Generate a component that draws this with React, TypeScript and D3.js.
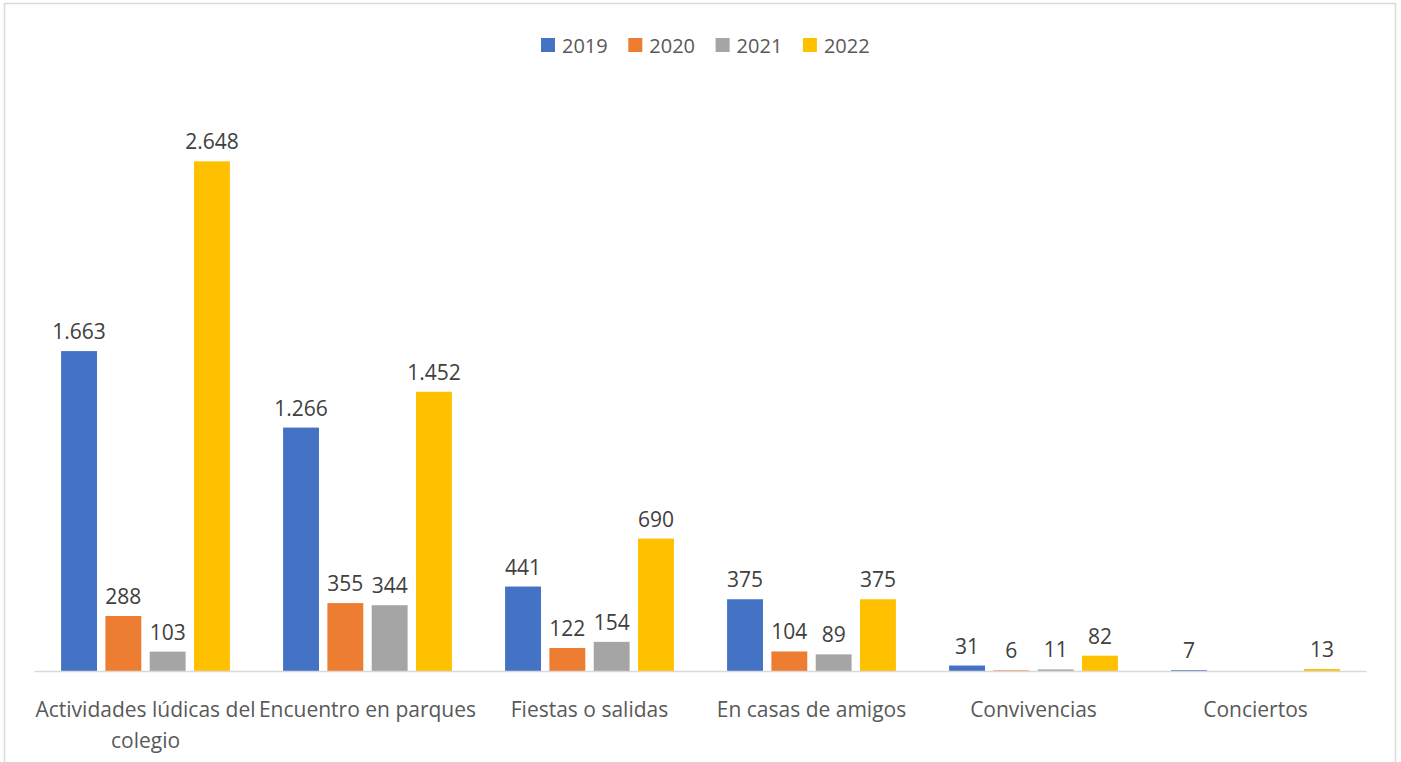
import React, { useEffect, useRef } from 'react';
import * as d3 from 'd3';

const categories = [
  'Actividades lúdicas del colegio',
  'Encuentro en parques',
  'Fiestas o salidas',
  'En casas de amigos',
  'Convivencias',
  'Conciertos',
];
const years = ['2019', '2020', '2021', '2022'];
const values2019 = [1663, 1266, 441, 375, 31, 7];
const values2020 = [288, 355, 122, 104, 6, null];
const values2021 = [103, 344, 154, 89, 11, null];
const values2022 = [2648, 1452, 690, 375, 82, 13];
const colors = ['#4472C4', '#ED7D31', '#A5A5A5', '#FFC000'];

const W = 1401;
const H = 762;

const Chart: React.FC = () => {
  const svgRef = useRef<SVGSVGElement | null>(null);

  useEffect(() => {
    if (!svgRef.current) return;
    const svg = d3.select(svgRef.current);
    svg.selectAll('*').remove();

    const font = '"Open Sans", sans-serif';
    const series = [values2019, values2020, values2021, values2022];
    const locale = d3.formatLocale({ decimal: ',', thousands: '.', grouping: [3], currency: ['', '€'] });
    const fmt = locale.format(',d');

    // outer chart border (bottom edge runs off the page)
    svg.append('rect')
      .attr('x', 4.5).attr('y', 3.5)
      .attr('width', 1391).attr('height', 820)
      .attr('fill', '#fff')
      .attr('stroke', '#d9d9d9')
      .attr('stroke-width', 1.5);

    const x0 = d3.scaleBand<string>().domain(categories).range([34.5, 1366.5]);
    const x1 = d3.scaleBand<string>().domain(years).range([0, x0.bandwidth()])
      .paddingInner(0.19).paddingOuter(0.6);
    const y = d3.scaleLinear().domain([0, 3000]).range([671.5, 93.5]);

    const groups = svg.append('g').selectAll('g')
      .data(categories)
      .enter().append('g')
      .attr('transform', d => `translate(${x0(d)},0)`);

    years.forEach((yr, si) => {
      groups.each(function (_c, ci) {
        const v = series[si][ci];
        if (v == null) return; // no bar for this year
        const g = d3.select(this);
        g.append('rect')
          .attr('x', x1(yr)!)
          .attr('y', y(v))
          .attr('width', x1.bandwidth())
          .attr('height', y(0) - y(v))
          .attr('fill', colors[si]);
        g.append('text')
          .attr('x', x1(yr)! + x1.bandwidth() / 2)
          .attr('y', y(v) - 12)
          .attr('text-anchor', 'middle')
          .style('font-family', font)
          .style('font-size', '21px')
          .style('fill', '#404040')
          .text(fmt(v));
      });
    });

    // baseline
    svg.append('line')
      .attr('x1', 34.5).attr('x2', 1366.5)
      .attr('y1', 671.5).attr('y2', 671.5)
      .attr('stroke', '#d9d9d9')
      .attr('stroke-width', 1.5);

    // category labels, wrapped to the band width
    categories.forEach(c => {
      const cx = x0(c)! + x0.bandwidth() / 2;
      const t = svg.append('text')
        .attr('text-anchor', 'middle')
        .style('font-family', font)
        .style('font-size', '21px')
        .style('fill', '#595959');
      let line: string[] = [];
      let lineNo = 0;
      let ts = t.append('tspan').attr('x', cx).attr('y', 717);
      c.split(' ').forEach(w => {
        line.push(w);
        ts.text(line.join(' '));
        if ((ts.node() as SVGTSpanElement).getComputedTextLength() > 226 && line.length > 1) {
          line.pop();
          ts.text(line.join(' '));
          line = [w];
          lineNo++;
          ts = t.append('tspan')
            .attr('x', cx)
            .attr('y', 717 + lineNo * 31)
            .text(w);
        }
      });
    });

    // legend
    const legend = svg.append('g').attr('transform', 'translate(541,38)');
    years.forEach((yr, i) => {
      const g = legend.append('g').attr('transform', `translate(${i * 87.3},0)`);
      g.append('rect').attr('width', 14).attr('height', 14).attr('fill', colors[i]);
      g.append('text')
        .attr('x', 21).attr('y', 15)
        .style('font-family', font)
        .style('font-size', '20px')
        .style('fill', '#595959')
        .text(yr);
    });
  }, []);

  return <svg ref={svgRef} width={W} height={H} style={{ display: 'block' }} />;
};

export default function App() {
  return (
    <div style={{ position: 'absolute', left: 0, top: 0, background: '#fff' }}>
      <Chart />
    </div>
  );
}
